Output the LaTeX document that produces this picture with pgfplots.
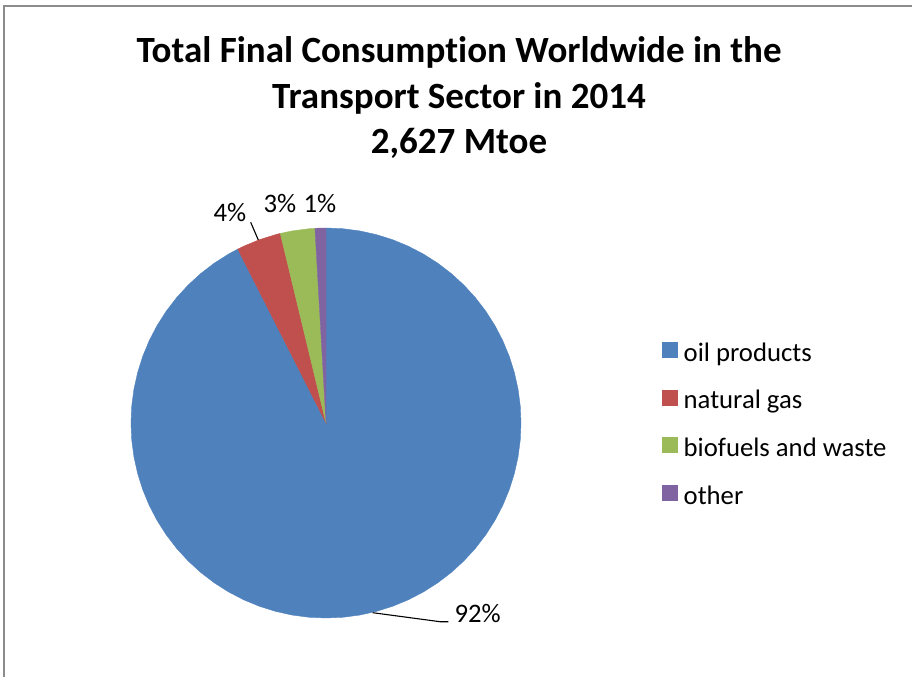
\documentclass[border=0pt]{standalone}
\usepackage{fontspec}
\setmainfont{Carlito}[RawFeature=-liga]
\usepackage{pgfplots}
\pgfplotsset{compat=1.18}
\usepgfplotslibrary{polar}

% Excel 2007 palette
\definecolor{oilc}{HTML}{4F81BD}
\definecolor{gasc}{HTML}{C0504D}
\definecolor{bioc}{HTML}{9BBB59}
\definecolor{othc}{HTML}{8064A2}
\definecolor{framec}{HTML}{8C8C8C}

% shares (percent): oil 92.5, gas 3.7, biofuels 2.85, other 0.95
% slices run clockwise from 12 o'clock: boundaries at 90, 93.25, 103.55, 116.9, 450 deg

\begin{document}
\begin{tikzpicture}[x=1pt,y=1pt]
\useasboundingbox (0,0) rectangle (912,677);

% chart frame (only left and top visible in the crop)
\draw[framec, line width=1.3pt] (4,0) -- (4,671) -- (912,671);

% title
\node[anchor=base, font=\fontsize{37}{45}\selectfont\bfseries, inner sep=0pt] at (459,614) {Total Final Consumption Worldwide in the};
\node[anchor=base, font=\fontsize{37}{45}\selectfont\bfseries, inner sep=0pt] at (459,568.5) {Transport Sector in 2014};
\node[anchor=base, font=\fontsize{37}{45}\selectfont\bfseries, inner sep=0pt] at (459,523) {2,627 Mtoe};

\begin{axis}[
  at={(326pt,254pt)}, anchor=center,
  scale only axis, width=390pt, height=390pt,
  xmin=-1, xmax=1, ymin=-1, ymax=1,
  hide axis, clip=false,
  legend style={
    at={(axis description cs:1.361,0.492)}, anchor=west,
    draw=none, fill=none, inner sep=0pt, outer sep=0pt,
    font=\fontsize{26.7}{32}\selectfont,
    row sep=22.6pt,
    nodes={inner sep=0pt, text height=17pt, text depth=6pt},
    /tikz/every odd column/.append style={column sep=6.5pt},
  },
  legend cell align=left,
  legend image code/.code={\fill[#1] (0pt,-1.5pt) rectangle (15pt,13.5pt);},
]
\addplot[data cs=polar, fill=oilc, draw=oilc, line width=0.4pt] coordinates {
(0,0) (116.9,1) (120,1) (125,1) (130,1) (135,1) (140,1) (145,1) (150,1) (155,1)
(160,1) (165,1) (170,1) (175,1) (180,1) (185,1) (190,1) (195,1) (200,1) (205,1)
(210,1) (215,1) (220,1) (225,1) (230,1) (235,1) (240,1) (245,1) (250,1) (255,1)
(260,1) (265,1) (270,1) (275,1) (280,1) (285,1) (290,1) (295,1) (300,1) (305,1)
(310,1) (315,1) (320,1) (325,1) (330,1) (335,1) (340,1) (345,1) (350,1) (355,1)
(360,1) (365,1) (370,1) (375,1) (380,1) (385,1) (390,1) (395,1) (400,1) (405,1)
(410,1) (415,1) (420,1) (425,1) (430,1) (435,1) (440,1) (445,1) (450,1)
} -- cycle;
\addlegendentry{oil products}
\addplot[data cs=polar, fill=gasc, draw=gasc, line width=0.4pt] coordinates {
(0,0) (103.55,1) (105,1) (110,1) (115,1) (116.9,1)
} -- cycle;
\addlegendentry{natural gas}
\addplot[data cs=polar, fill=bioc, draw=bioc, line width=0.4pt] coordinates {
(0,0) (93.25,1) (95,1) (100,1) (103.55,1)
} -- cycle;
\addlegendentry{biofuels and waste}
\addplot[data cs=polar, fill=othc, draw=othc, line width=0.4pt] coordinates {
(0,0) (90,1) (91.6,1) (93.25,1)
} -- cycle;
\addlegendentry{other}
\end{axis}

% data labels and leader lines
\begin{scope}[font=\fontsize{26.7}{32}\selectfont]
\node[anchor=base, inner sep=0pt] at (230,455) {4\%};
\node[anchor=base, inner sep=0pt] at (280,464.3) {3\%};
\node[anchor=base, inner sep=0pt] at (320,464.3) {1\%};
\node[anchor=base west, inner sep=0pt] at (454.3,55) {92\%};
\end{scope}
\draw[line width=1.1pt] (250.7,454.7) -- (258.3,437);
\draw[line width=1.1pt] (372.7,64.3) -- (440,55.3) -- (448.3,55.3);
\end{tikzpicture}
\end{document}
